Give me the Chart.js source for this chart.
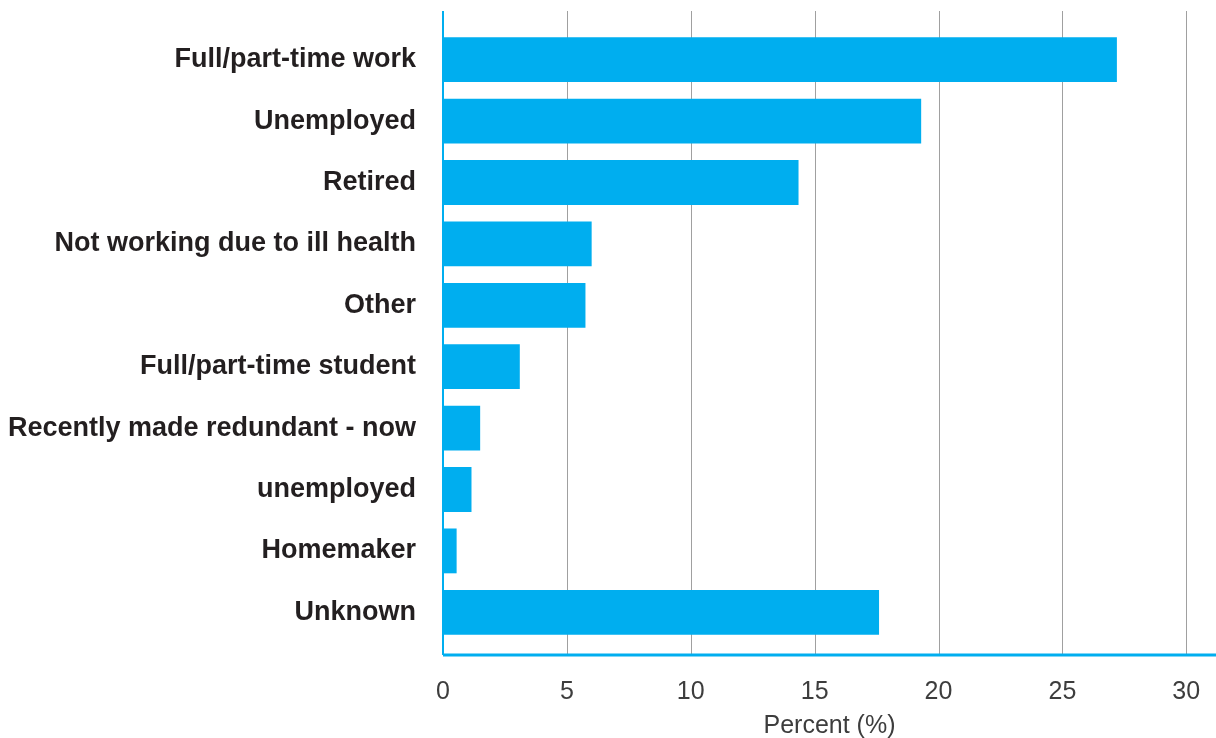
<!DOCTYPE html>
<html>
<head>
<meta charset="utf-8">
<script src="https://cdn.jsdelivr.net/npm/chart.js@4"></script>
<style>
  html, body { margin: 0; padding: 0; background: #fff; }
  #wrap { width: 1216px; height: 738px; }
</style>
</head>
<body>
<div id="wrap"><canvas id="chart"></canvas></div>
<script>
// categories (the long "recently made redundant" label wraps over two rows in the source)
const categories = [
    'Full/part-time work',
    'Unemployed',
    'Retired',
    'Not working due to ill health',
    'Other',
    'Full/part-time student',
    'Recently made redundant - now',
    'unemployed',
    'Homemaker',
    'Unknown'
];
const percents = [27.2, 19.3, 14.35, 6.0, 5.75, 3.1, 1.5, 1.15, 0.55, 17.6];
const xTicks = [0, 5, 10, 15, 20, 25, 30];
const xTitle = 'Percent (%)';

const cyan = '#00aeef';

// grid + axis lines run a little past the bars, like the original artwork
const frame = {
    id: 'frame',
    beforeDatasetsDraw(chart) {
        const { ctx, chartArea: a, scales: { x } } = chart;
        ctx.save();
        ctx.strokeStyle = '#a0a0a0';
        ctx.lineWidth = 1;
        xTicks.forEach(v => {
            if (v === 0) return;
            const px = Math.round(x.getPixelForValue(v)) + 0.5;
            ctx.beginPath();
            ctx.moveTo(px, a.top - 18);
            ctx.lineTo(px, a.bottom + 12);
            ctx.stroke();
        });
        ctx.restore();
    },
    afterDatasetsDraw(chart) {
        const { ctx, chartArea: a, scales: { x } } = chart;
        const x0 = x.getPixelForValue(0);
        ctx.save();
        ctx.strokeStyle = cyan;
        ctx.lineWidth = 2;
        ctx.beginPath();
        ctx.moveTo(x0, a.top - 18);
        ctx.lineTo(x0, a.bottom + 12);
        ctx.stroke();
        ctx.lineWidth = 3;
        ctx.beginPath();
        ctx.moveTo(x0, a.bottom + 12);
        ctx.lineTo(a.right, a.bottom + 12);
        ctx.stroke();
        ctx.restore();
    }
};

new Chart(document.getElementById('chart'), {
    type: 'bar',
    data: {
        labels: categories,
        datasets: [{
            label: xTitle,
            data: percents,
            backgroundColor: cyan,
            borderWidth: 0,
            barPercentage: 0.73,
            categoryPercentage: 1
        }]
    },
    options: {
        indexAxis: 'y',
        responsive: true,
        maintainAspectRatio: false,
        animation: false,
        layout: {
            padding: { top: 29, right: 0, bottom: 0, left: 0 }
        },
        plugins: {
            legend: { display: false },
            tooltip: { enabled: false }
        },
        scales: {
            x: {
                min: 0,
                max: 31.2,
                afterBuildTicks: s => { s.ticks = xTicks.map(v => ({ value: v })); },
                afterFit: s => {
                    s.height = 95;
                    s.paddingLeft = 0;
                    s.paddingRight = 0;
                },
                grid: { display: false, drawTicks: false },
                border: { display: false },
                ticks: {
                    autoSkip: false,
                    maxRotation: 0,
                    padding: 34,
                    color: '#3d3d3d',
                    font: { family: '"Liberation Sans", Arial, sans-serif', size: 25 }
                },
                title: {
                    display: true,
                    text: xTitle,
                    color: '#3d3d3d',
                    font: { family: '"Liberation Sans", Arial, sans-serif', size: 25, lineHeight: 1 },
                    padding: { top: 0, bottom: -1 }
                }
            },
            y: {
                afterFit: s => {
                    s.width = 443;
                    s.paddingTop = 0;
                    s.paddingBottom = 0;
                },
                grid: { display: false, drawTicks: false },
                border: { display: false },
                ticks: {
                    padding: 27,
                    color: '#231f20',
                    font: { family: '"Liberation Sans", Arial, sans-serif', size: 27, weight: 'bold' }
                }
            }
        }
    },
    plugins: [frame]
});
</script>
</body>
</html>
